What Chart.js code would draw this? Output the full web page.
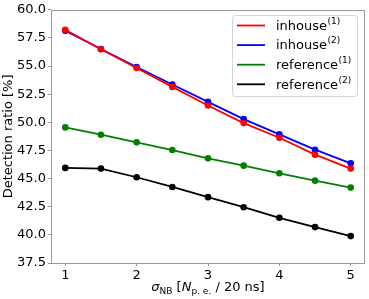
<!DOCTYPE html>
<html>
<head>
<meta charset="utf-8">
<script src="https://cdn.jsdelivr.net/npm/chart.js@4.4.1/dist/chart.umd.min.js"></script>
<style>
  html, body { margin: 0; padding: 0; background: #fff; }
  #c { display: block; }
</style>
</head>
<body>
<canvas id="c" width="369" height="299"></canvas>
<script>
// values
const sigmaNB = [1, 1.5, 2, 2.5, 3, 3.5, 4, 4.5, 5];
const inhouse1 = [58.23, 56.49, 54.83, 53.15, 51.50, 49.93, 48.63, 47.13, 45.89];
const inhouse2 = [58.14, 56.52, 54.92, 53.36, 51.82, 50.29, 48.93, 47.57, 46.36];
const reference1 = [49.55, 48.90, 48.22, 47.54, 46.80, 46.15, 45.47, 44.82, 44.20];
const reference2 = [45.95, 45.89, 45.12, 44.26, 43.35, 42.46, 41.52, 40.69, 39.89];

const seriesNames = ['inhouse', 'inhouse', 'reference', 'reference'];
const seriesSup = ['(1)', '(2)', '(1)', '(2)'];
const seriesColors = ['#ff0000', '#0000ff', '#008000', '#000000'];
const xTicks = [1, 2, 3, 4, 5];
const yTicks = [37.5, 40, 42.5, 45, 47.5, 50, 52.5, 55, 57.5, 60];

const FONT = 'DejaVu Sans';
const AXIS = '#999';

const allSeries = [inhouse1, inhouse2, reference1, reference2];

const datasets = allSeries.map((vals, i) => ({
  label: seriesNames[i] + seriesSup[i],
  data: vals.map((v, j) => ({ x: sigmaNB[j], y: v })),
  borderColor: seriesColors[i],
  backgroundColor: seriesColors[i],
  borderWidth: 1.8,
  pointRadius: 3.3,
  pointHoverRadius: 3.3,
  pointBorderWidth: 0,
  tension: 0,
  fill: false
}));

// box around plot, legend and x title with subscripts
const extras = {
  id: 'extras',
  afterDraw(chart) {
    const ctx = chart.ctx;
    const a = chart.chartArea;
    ctx.save();
    ctx.strokeStyle = AXIS;
    ctx.lineWidth = 1;
    ctx.strokeRect(Math.round(a.left) + 0.5, Math.round(a.top) + 0.5,
      Math.round(a.right - a.left) - 1, Math.round(a.bottom - a.top));

    // legend
    const bx = 232.5, by = 15.5, bw = 125, bh = 81, r = 3;
    ctx.beginPath();
    ctx.moveTo(bx + r, by);
    ctx.arcTo(bx + bw, by, bx + bw, by + bh, r);
    ctx.arcTo(bx + bw, by + bh, bx, by + bh, r);
    ctx.arcTo(bx, by + bh, bx, by, r);
    ctx.arcTo(bx, by, bx + bw, by, r);
    ctx.closePath();
    ctx.fillStyle = 'rgba(255,255,255,0.8)';
    ctx.fill();
    ctx.strokeStyle = '#d6d6d6';
    ctx.stroke();

    ctx.textBaseline = 'middle';
    ctx.textAlign = 'left';
    for (let i = 0; i < seriesNames.length; i++) {
      const y = 25.5 + i * 19.6;
      ctx.strokeStyle = seriesColors[i];
      ctx.lineWidth = 1.8;
      ctx.beginPath();
      ctx.moveTo(237, y);
      ctx.lineTo(265, y);
      ctx.stroke();
      ctx.fillStyle = '#000';
      ctx.font = '13px "' + FONT + '"';
      ctx.fillText(seriesNames[i], 276, y + 1);
      const w = ctx.measureText(seriesNames[i]).width;
      ctx.font = '9px "' + FONT + '"';
      ctx.fillText(seriesSup[i], 276 + w + 0.5, y - 4);
    }

    // x title: sigma_NB [N_p.e. / 20 ns]
    const parts = [
      { t: 'σ', f: 'italic 13px', dy: 0 },
      { t: 'NB', f: '9px', dy: 3 },
      { t: ' [', f: '13px', dy: 0 },
      { t: 'N', f: 'italic 13px', dy: 0 },
      { t: 'p. e.', f: '9px', dy: 3 },
      { t: ' / 20 ns]', f: '13px', dy: 0 }
    ];
    let total = 0;
    parts.forEach(p => {
      ctx.font = p.f + ' "' + FONT + '"';
      p.w = ctx.measureText(p.t).width;
      total += p.w;
    });
    let x = (a.left + a.right) / 2 - total / 2;
    ctx.textBaseline = 'alphabetic';
    ctx.fillStyle = '#000';
    parts.forEach(p => {
      ctx.font = p.f + ' "' + FONT + '"';
      ctx.fillText(p.t, x, 291 + p.dy);
      x += p.w;
    });
    ctx.restore();
  }
};

new Chart(document.getElementById('c').getContext('2d'), {
  type: 'line',
  data: { datasets: datasets },
  options: {
    responsive: false,
    animation: false,
    devicePixelRatio: 1,
    layout: { padding: { top: 8, right: 4, left: 0, bottom: 0 } },
    plugins: {
      legend: { display: false },
      tooltip: { enabled: false }
    },
    scales: {
      x: {
        type: 'linear',
        min: 0.8,
        max: 5.2,
        afterBuildTicks: s => { s.ticks = xTicks.map(v => ({ value: v })); },
        afterFit: s => { s.height = 36; },
        grid: { drawOnChartArea: false, drawTicks: true, tickLength: 3, color: AXIS },
        border: { display: false },
        ticks: { color: '#000', padding: 2, maxRotation: 0, font: { family: FONT, size: 13 } }
      },
      y: {
        type: 'linear',
        min: 37.5,
        max: 60,
        afterBuildTicks: s => { s.ticks = yTicks.map(v => ({ value: v })); },
        afterFit: s => { s.width = 51; },
        grid: { drawOnChartArea: false, drawTicks: true, tickLength: 3, color: AXIS },
        border: { display: false },
        ticks: {
          color: '#000', padding: 2,
          font: { family: FONT, size: 13 },
          callback: v => Number(v).toFixed(1)
        },
        title: {
          display: true,
          text: 'Detection ratio [%]',
          color: '#000',
          padding: { top: 1, bottom: 0 },
          font: { family: FONT, size: 13 }
        }
      }
    }
  },
  plugins: [extras]
});
</script>
</body>
</html>
